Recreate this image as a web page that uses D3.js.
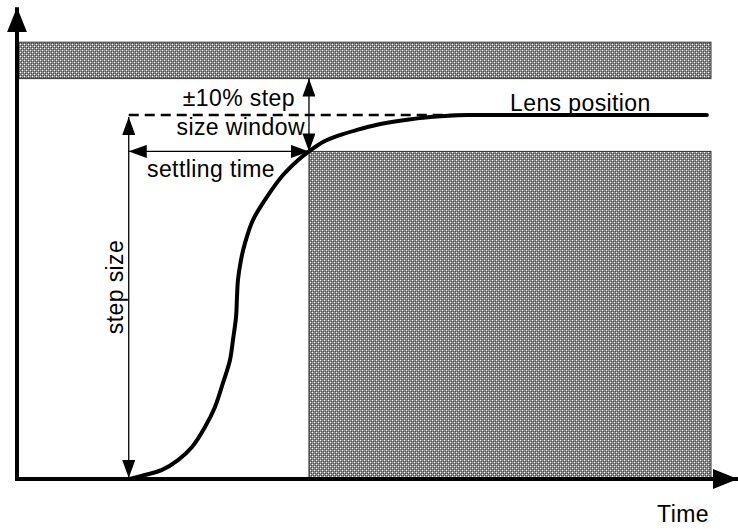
<!DOCTYPE html>
<html>
<head>
<meta charset="utf-8">
<script src="https://cdn.jsdelivr.net/npm/d3@7"></script>
<style>
  html, body { margin: 0; padding: 0; background: #fff; }
  svg { display: block; }
  text { font-family: "Liberation Sans", Arial, Helvetica, sans-serif; fill: #000; }
</style>
</head>
<body>
<svg id="chart" width="738" height="529"></svg>
<script>
// ---- data (time in arbitrary units 0..100, position as fraction of step) ----
const curveTime = [16.28, 18.44, 20.89, 23.2, 25.22, 27.09, 28.53, 29.68, 30.69, 31.12, 31.56, 31.7, 31.84, 32.28, 32.85, 34.01, 36.02, 38.33, 40.49, 42.07, 44.09, 46.54, 48.99, 51.87, 55.19, 59.94, 64.84, 69.6, 99.4];
const curvePos  = [0, 0.011, 0.025, 0.052, 0.088, 0.143, 0.198, 0.264, 0.327, 0.382, 0.445, 0.5, 0.547, 0.602, 0.648, 0.712, 0.775, 0.835, 0.876, 0.9, 0.926, 0.945, 0.959, 0.973, 0.984, 0.995, 1.0, 1.0, 1.0];
const stepStart = 16.1;        // time when step begins
const settleTime = 42.07;      // time when curve enters the window
const windowLow = 0.9;         // -10% window bound
const windowHigh = 1.1;        // +10% window bound
const bandTop = 1.2;           // top of upper forbidden band
const finalPos = 1.0;          // target lens position
const dashEnd = 65;            // dashed target line ends where curve merges
const timeDomain = [0, 100];
const posDomain = [0, 1];
const labels = {
  window1: "±10% step",
  window2: "size window",
  settling: "settling time",
  step: "step size",
  lens: "Lens position",
  time: "Time"
};

// ---- scales ----
const x = d3.scaleLinear().domain(timeDomain).range([17, 711]);
const y = d3.scaleLinear().domain(posDomain).range([479, 115]);

const svg = d3.select("#chart");
const defs = svg.append("defs");

// fine dotted grey texture
const pat = defs.append("pattern").attr("id", "tex")
  .attr("patternUnits", "userSpaceOnUse").attr("width", 4).attr("height", 4);
pat.append("rect").attr("width", 4).attr("height", 4).attr("fill", "#8e8e8e");
[[0,0],[2,2]].forEach(([a,b]) => pat.append("rect").attr("x", a).attr("y", b).attr("width", 1).attr("height", 1).attr("fill", "#ffffff"));
[[1,1],[3,3],[3,1],[1,3]].forEach(([a,b]) => pat.append("rect").attr("x", a).attr("y", b).attr("width", 1).attr("height", 1).attr("fill", "#4a4a4a"));

// arrow markers
function marker(id, len, wid) {
  defs.append("marker").attr("id", id)
    .attr("viewBox", `0 ${-wid/2} ${len} ${wid}`)
    .attr("refX", len).attr("refY", 0)
    .attr("markerWidth", len).attr("markerHeight", wid)
    .attr("markerUnits", "userSpaceOnUse")
    .attr("orient", "auto-start-reverse")
    .append("path").attr("d", `M0,${-wid/2}L${len},0L0,${wid/2}Z`).attr("fill", "#000");
}
marker("ah", 18, 13);
marker("axh", 25, 20);

// forbidden regions
svg.append("rect")
  .attr("x", x(timeDomain[0])).attr("y", y(bandTop))
  .attr("width", x(timeDomain[1]) - x(timeDomain[0]))
  .attr("height", y(windowHigh) - y(bandTop))
  .attr("fill", "url(#tex)").attr("stroke", "#333").attr("stroke-width", 1);

svg.append("rect")
  .attr("x", x(settleTime)).attr("y", y(windowLow))
  .attr("width", x(timeDomain[1]) - x(settleTime))
  .attr("height", y(0) - y(windowLow))
  .attr("fill", "url(#tex)").attr("stroke", "#333").attr("stroke-width", 1);

// dashed target line
svg.append("line")
  .attr("x1", x(stepStart)).attr("x2", x(dashEnd))
  .attr("y1", y(finalPos)).attr("y2", y(finalPos))
  .attr("stroke", "#000").attr("stroke-width", 2.5).attr("stroke-dasharray", "10,6");

// axes
svg.append("line")
  .attr("x1", x(timeDomain[0])).attr("x2", x(timeDomain[1]) + 27)
  .attr("y1", y(0)).attr("y2", y(0))
  .attr("stroke", "#000").attr("stroke-width", 4).attr("marker-end", "url(#axh)");
svg.append("line")
  .attr("x1", x(timeDomain[0])).attr("x2", x(timeDomain[0]))
  .attr("y1", y(0) + 2).attr("y2", y(bandTop) - 35)
  .attr("stroke", "#000").attr("stroke-width", 4).attr("marker-end", "url(#axh)");

// lens position curve
const pts = curveTime.map((t, i) => [t, curvePos[i]]);
svg.append("path")
  .datum(pts)
  .attr("d", d3.line().x(d => x(d[0])).y(d => y(d[1])).curve(d3.curveCatmullRom.alpha(0.5)))
  .attr("fill", "none").attr("stroke", "#000").attr("stroke-width", 4)
  .attr("stroke-linecap", "round");

// annotation arrows
function arrow(x1, y1, x2, y2) {
  svg.append("line").attr("x1", x1).attr("y1", y1).attr("x2", x2).attr("y2", y2)
    .attr("stroke", "#000").attr("stroke-width", 1.3)
    .attr("marker-start", "url(#ah)").attr("marker-end", "url(#ah)");
}
arrow(x(stepStart), y(finalPos) + 2, x(stepStart), y(0) - 1);      // step size
arrow(x(stepStart), y(windowLow), x(settleTime), y(windowLow));     // settling time
arrow(x(settleTime), y(windowHigh), x(settleTime), y(windowLow));   // window

// labels
const fs = 23;
function label(sel) { return sel.attr("font-size", fs).attr("letter-spacing", 0.4); }
label(svg.append("text")).attr("x", x(settleTime) - 14).attr("y", 106).attr("text-anchor", "end").text(labels.window1);
label(svg.append("text")).attr("x", x(settleTime) - 4).attr("y", 135).attr("text-anchor", "end").text(labels.window2);
label(svg.append("text")).attr("x", 211).attr("y", 177).attr("text-anchor", "middle").text(labels.settling);
label(svg.append("text"))
  .attr("transform", `translate(${x(stepStart) - 6},${(y(finalPos) + y(0)) / 2 - 10}) rotate(-90)`)
  .attr("text-anchor", "middle").text(labels.step);
label(svg.append("text")).attr("x", 510).attr("y", 111).text(labels.lens);
label(svg.append("text")).attr("x", 683).attr("y", 522).attr("text-anchor", "middle").text(labels.time);
</script>
</body>
</html>
